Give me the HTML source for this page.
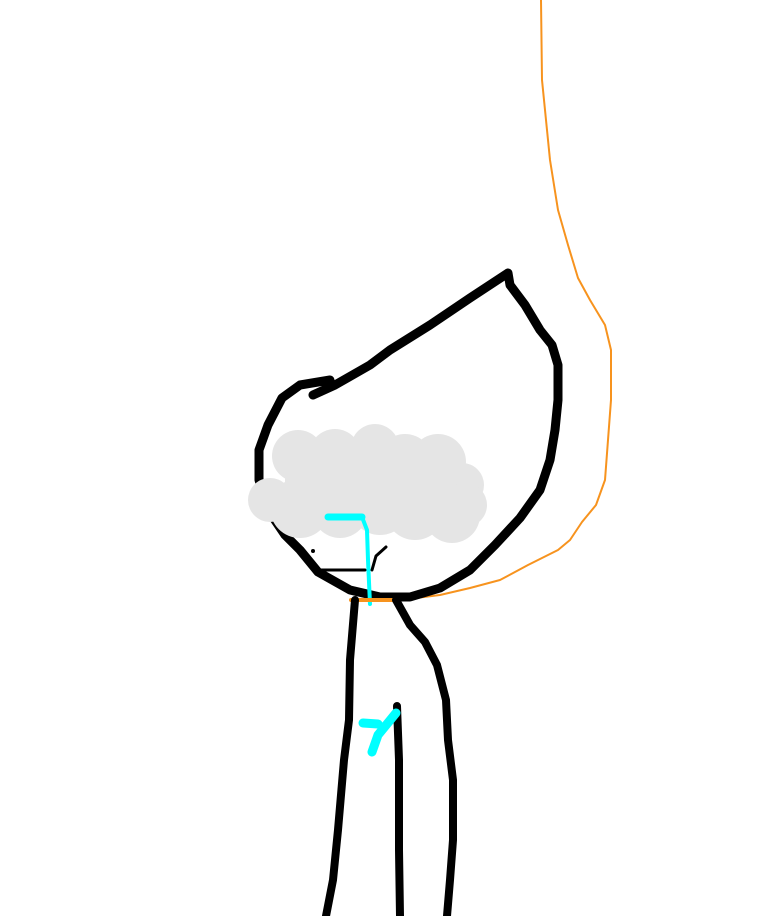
<!DOCTYPE html>
<html><head><style>html,body{margin:0;padding:0;background:#fff;width:768px;height:916px;overflow:hidden}</style></head>
<body>
<svg width="768" height="916" viewBox="0 0 768 916" xmlns="http://www.w3.org/2000/svg">
<g fill="none" stroke-linecap="round" stroke-linejoin="round">
<path d="M541,0 L542,80 L545,110 L550,160 L558,210 L568,245 L578,278 L590,300 L605,325 L611,350 L611,400 L608,440 L605,480 L596,505 L582,522 L570,540 L558,550 L528,565 L515,572 L500,580 L470,588 L440,595 L400,600" stroke="#f7931e" stroke-width="2"/>
<path d="M313,395 L335,385 L370,365 L390,350 L430,325 L470,298 L508,273 M330,380 L300,385 L282,398 L268,425 L259,450 L259,480 L268,510 L285,535 L300,550 L318,572 L350,590 L380,597 L410,597 L440,588 L470,570 L495,545 L520,518 L540,490 L550,460 L555,430 L558,400 L558,365 L552,345 L540,330 L525,305 L510,285 L508,273" stroke="#000" stroke-width="9"/>
</g>
<g fill="#e5e5e5">
<circle cx="298" cy="456" r="26"/><circle cx="335" cy="455" r="26"/><circle cx="375" cy="448" r="24"/><circle cx="405" cy="462" r="28"/><circle cx="438" cy="462" r="28"/><circle cx="462" cy="485" r="22"/><circle cx="270" cy="500" r="22"/><circle cx="300" cy="508" r="30"/><circle cx="340" cy="510" r="28"/><circle cx="380" cy="505" r="30"/><circle cx="415" cy="510" r="30"/><circle cx="452" cy="515" r="28"/><circle cx="465" cy="505" r="22"/>
<rect x="285" y="460" width="170" height="60"/>
</g>
<g fill="none" stroke-linecap="round" stroke-linejoin="round">
<path d="M320,570 L365,570 M372,570 L376,556 L386,547" stroke="#000" stroke-width="3"/>
<circle cx="313" cy="551" r="2" fill="#000"/>
<path d="M328,517 L362,517" stroke="#00ffff" stroke-width="7"/>
<path d="M362,517 L367,530 L368,560 L370,604" stroke="#00ffff" stroke-width="4"/>
<path d="M351,600 L398,600" stroke="#f7931e" stroke-width="4"/>
<path d="M355,600 L350,660 L349,720 L344,760 L338,830 L333,880 L326,916 M396,600 L410,625 L425,642 L437,665 L446,700 L448,740 L453,780 L453,840 L450,880 L447,916 M397,706 L399,760 L399,850 L400,916" stroke="#000" stroke-width="8"/>
<path d="M363,723 L378,724 M396,713 L378,735 L372,752" stroke="#00ffff" stroke-width="9"/>
</g>
</svg>
</body></html>
